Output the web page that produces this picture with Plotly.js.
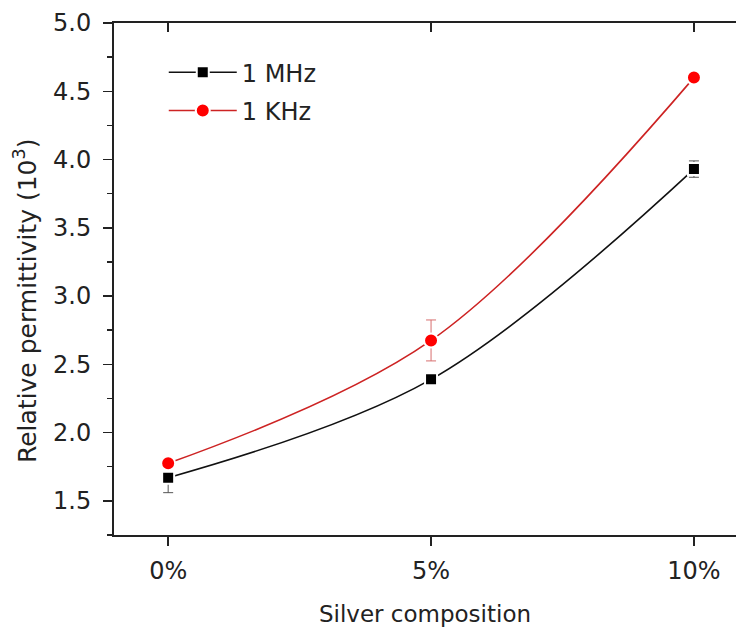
<!DOCTYPE html>
<html>
<head>
<meta charset="utf-8">
<script src="https://cdn.plot.ly/plotly-3.0.1.min.js"></script>
<style>html,body{margin:0;padding:0;background:#fff;overflow:hidden}</style>
</head>
<body>
<div id="chart" style="width:736px;height:629px"></div>
<script>
const composition = [0, 5, 10];
const tickLabels = ['0%', '5%', '10%'];
const mhzValues = [1.67, 2.39, 3.93];
const mhzErrors = [0.11, 0.02, 0.06];
const khzValues = [1.775, 2.675, 4.60];
const khzErrors = [0.03, 0.15, 0.0];
const yTitle = 'Relative permittivity (10<sup>3</sup>)';
const xTitle = 'Silver composition';

const fam = 'DejaVu Sans, Liberation Sans, Arial, sans-serif';
const txt = '#222';

const traces = [
  {
    x: composition, y: mhzValues, name: '1 MHz', type: 'scatter', mode: 'lines+markers',
    legendgroup: 'a',
    line: {color: '#111', width: 1.6, shape: 'spline', smoothing: 1},
    marker: {symbol: 'square', size: 12, color: '#000', line: {color: '#fff', width: 2}},
    error_y: {type: 'data', array: mhzErrors, visible: true, color: '#555', thickness: 1, width: 5}
  },
  {
    x: composition, y: khzValues, name: '1 KHz', type: 'scatter', mode: 'lines+markers',
    legendgroup: 'b',
    line: {color: 'rgb(205,35,35)', width: 1.6, shape: 'spline', smoothing: 1},
    marker: {symbol: 'circle', size: 14, color: '#ff0000', line: {color: '#fff', width: 2}},
    error_y: {type: 'data', array: khzErrors, visible: true, color: 'rgb(215,110,110)', thickness: 1, width: 5}
  },
  {
    x: composition, y: mhzValues, xaxis: 'x2', type: 'scatter', mode: 'none',
    showlegend: false, hoverinfo: 'skip'
  }
];

const xRange = [-1.03, 10.8];
const layout = {
  width: 736, height: 629,
  margin: {l: 114, r: 0, t: 23, b: 94},
  paper_bgcolor: '#fff', plot_bgcolor: '#fff',
  font: {family: fam, size: 24, color: txt},
  showlegend: true,
  legend: {
    x: 0.08, y: 0.947, xanchor: 'left', yanchor: 'top',
    bgcolor: 'rgba(0,0,0,0)', borderwidth: 0,
    font: {family: fam, size: 24, color: txt},
    itemwidth: 68, tracegroupgap: 4
  },
  xaxis: {
    range: xRange, tickvals: composition, ticktext: tickLabels,
    showline: true, linecolor: '#222', linewidth: 2,
    ticks: 'outside', ticklen: 9, tickwidth: 1.5, tickcolor: '#222',
    ticklabelstandoff: 4,
    showgrid: false, zeroline: false,
    tickfont: {family: fam, size: 24, color: txt},
    title: {text: xTitle, font: {family: fam, size: 23, color: txt}, standoff: 22}
  },
  xaxis2: {
    range: xRange, overlaying: 'x', side: 'top', tickvals: composition,
    showticklabels: false, showline: true, linecolor: '#222', linewidth: 2,
    ticks: 'inside', ticklen: 9, tickwidth: 1.5, tickcolor: '#222',
    showgrid: false, zeroline: false
  },
  yaxis: {
    range: [1.25, 5.0], dtick: 0.5, tick0: 1.5, tickformat: '.1f',
    showline: true, linecolor: '#222', linewidth: 2,
    ticks: 'outside', ticklen: 9, tickwidth: 1.5, tickcolor: '#222',
    ticklabelstandoff: 7,
    minor: {dtick: 0.25, tick0: 1.5, ticks: 'outside', ticklen: 5, tickwidth: 1.5, tickcolor: '#222', showgrid: false},
    showgrid: false, zeroline: false,
    tickfont: {family: fam, size: 24, color: txt}
  },
  annotations: [{
    text: yTitle, xref: 'paper', yref: 'paper', x: -0.143, y: 0.457,
    xanchor: 'center', yanchor: 'middle', textangle: -90, showarrow: false,
    font: {family: fam, size: 25, color: txt}
  }]
};

Plotly.newPlot('chart', traces, layout, {displayModeBar: false, staticPlot: true});
</script>
</body>
</html>
